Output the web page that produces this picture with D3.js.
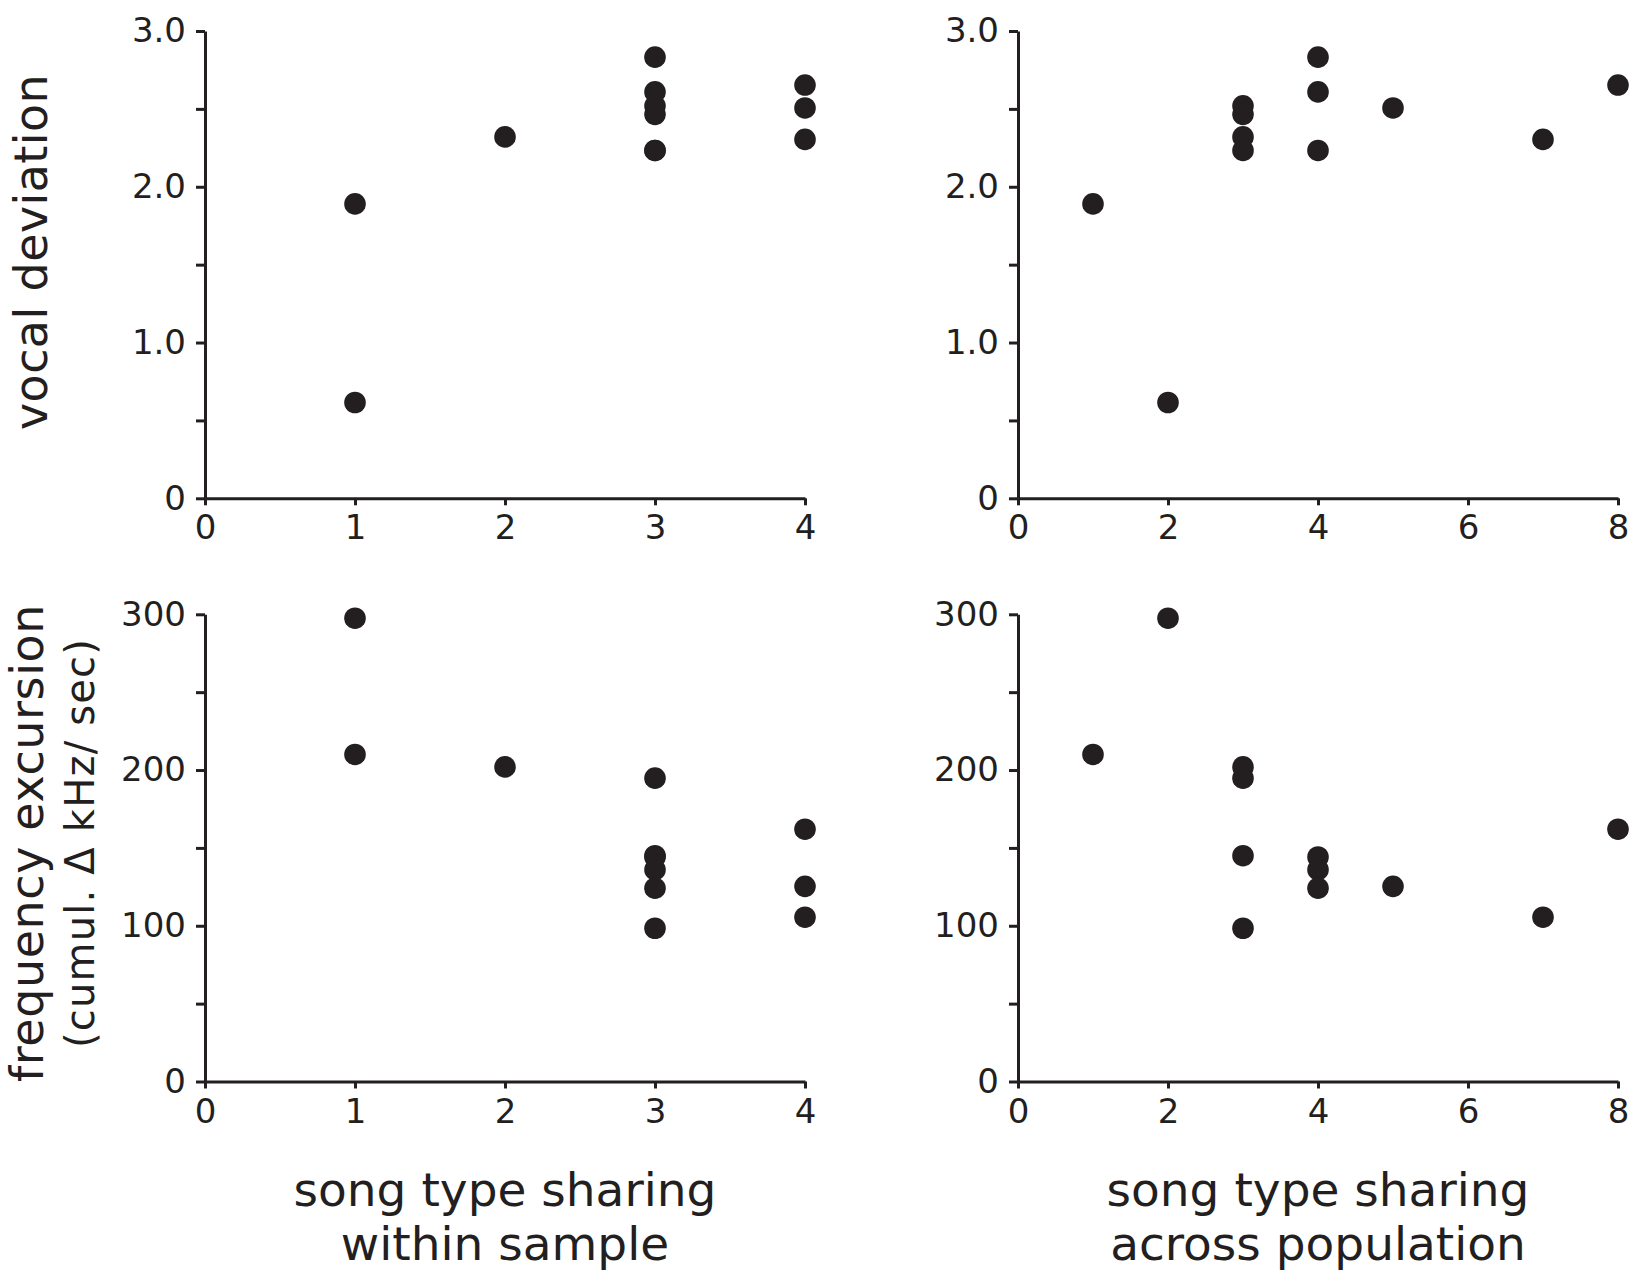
<!DOCTYPE html>
<html>
<head>
<meta charset="utf-8">
<script src="https://cdn.jsdelivr.net/npm/d3@7"></script>
<style>
    body { margin: 0; background: #fff; }
    svg { display: block; }
</style>
</head>
<body>
<div id="chart"></div>
<script>
// one entry per bird
var withinSample     = [1, 1, 2, 3, 3, 3, 3, 3, 3, 4, 4, 4];
var acrossPopulation = [1, 2, 3, 3, 3, 3, 4, 4, 4, 5, 7, 8];
var vocalDeviation   = [1.89, 0.615, 2.32, 2.52, 2.465, 2.233, 2.832, 2.609, 2.233, 2.506, 2.304, 2.653];
var freqExcursion    = [210, 297.5, 202, 194.8, 145, 98.4, 144.2, 136, 124.1, 125.3, 105.5, 162];

// axis ticks
var withinTicks = [0, 1, 2, 3, 4];
var acrossTicks = [0, 2, 4, 6, 8];
var vdTicks = [0, 0.5, 1, 1.5, 2, 2.5, 3];
var vdTickLabels = ["0", "", "1.0", "", "2.0", "", "3.0"];
var feTicks = [0, 50, 100, 150, 200, 250, 300];
var feTickLabels = ["0", "", "100", "", "200", "", "300"];

function init(){
    var w = 1632;
    var h = 1271;
    var ink = "#231f20";
    var font = "'DejaVu Sans', Verdana, sans-serif";

    var svg = d3.select("#chart")
                .append("svg")
                .attr("width", w)
                .attr("height", h);

    // x scales, one per column
    var xWithin = d3.scaleLinear().domain([0, 4]).range([205, 805]);
    var xAcross = d3.scaleLinear().domain([0, 8]).range([1018, 1618]);

    // y scales, one per row
    var yVd = d3.scaleLinear().domain([0, 3]).range([498.3, 31]);
    var yFe = d3.scaleLinear().domain([0, 300]).range([1081.5, 614.3]);

    function drawPanel(xScale, xTicks, xVals, yScale, yTicks, yLabels, yVals){
        var g = svg.append("g");

        // y axis, minor ticks carry no label
        g.append("g")
            .attr("transform", "translate(" + xScale.range()[0] + ",0)")
            .call(d3.axisLeft(yScale)
                .tickValues(yTicks)
                .tickSize(9)
                .tickSizeOuter(0)
                .tickPadding(10)
                .tickFormat(function(d, i){ return yLabels[i]; }));

        // x axis
        g.append("g")
            .attr("transform", "translate(0," + yScale.range()[0] + ")")
            .call(d3.axisBottom(xScale)
                .tickValues(xTicks)
                .tickSize(7)
                .tickSizeOuter(0)
                .tickPadding(10)
                .tickFormat(d3.format("d")));

        g.selectAll(".domain, .tick line")
            .attr("stroke", ink)
            .attr("stroke-width", 3);
        g.selectAll(".tick text")
            .attr("fill", ink)
            .attr("font-family", font)
            .attr("font-size", "34px");

        g.selectAll("circle")
            .data(xVals)
            .enter()
            .append("circle")
            .attr("cx", function(d){ return xScale(d); })
            .attr("cy", function(d, i){ return yScale(yVals[i]); })
            .attr("r", 10.8)
            .attr("fill", ink);
    }

    drawPanel(xWithin, withinTicks, withinSample, yVd, vdTicks, vdTickLabels, vocalDeviation);
    drawPanel(xAcross, acrossTicks, acrossPopulation, yVd, vdTicks, vdTickLabels, vocalDeviation);
    drawPanel(xWithin, withinTicks, withinSample, yFe, feTicks, feTickLabels, freqExcursion);
    drawPanel(xAcross, acrossTicks, acrossPopulation, yFe, feTicks, feTickLabels, freqExcursion);

    // rotated y titles
    function yTitle(x, y, size, spacing, txt){
        svg.append("text")
            .attr("transform", "translate(" + x + "," + y + ") rotate(-90)")
            .attr("text-anchor", "middle")
            .attr("font-family", font)
            .attr("font-size", size + "px")
            .attr("letter-spacing", spacing)
            .attr("fill", ink)
            .text(txt);
    }
    yTitle(47, 252, 46, 0.4, "vocal deviation");
    yTitle(43, 843, 46, 0.6, "frequency excursion");
    yTitle(94, 843, 40, 1.2, "(cumul. \u0394 kHz/ sec)");

    // x titles, two lines each
    function xTitle(cx, lines){
        svg.selectAll(null)
            .data(lines)
            .enter()
            .append("text")
            .attr("x", cx)
            .attr("y", function(d, i){ return 1206 + i * 54; })
            .attr("text-anchor", "middle")
            .attr("font-family", font)
            .attr("font-size", "47px")
            .attr("fill", ink)
            .text(function(d){ return d; });
    }
    xTitle(505, ["song type sharing", "within sample"]);
    xTitle(1318, ["song type sharing", "across population"]);
}

window.onload = init;
</script>
</body>
</html>
